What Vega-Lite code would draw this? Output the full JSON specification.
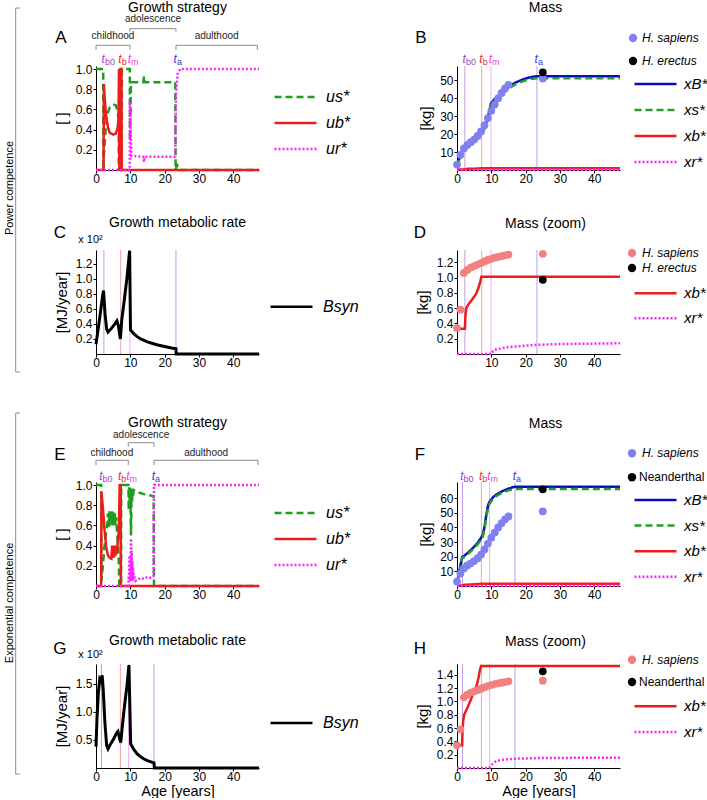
{
 "$schema": "https://vega.github.io/schema/vega-lite/v6.json",
 "padding": {"left": 4, "top": 0, "right": 0, "bottom": 0},
 "background": "white",
 "config": {
  "font": "Liberation Sans",
  "view": {"stroke": null},
  "axis": {"labelFont": "Liberation Sans", "labelFontSize": 12, "labelColor": "black", "titleFont": "Liberation Sans", "titleFontSize": 15, "titleFontWeight": "normal", "titleColor": "black", "domainColor": "black", "tickColor": "black", "tickSize": 3, "grid": false, "titlePadding": 6, "labelFlush": false, "labelOverlap": false},
  "axisX": {"labelPadding": 0},
  "axisY": {"labelPadding": 1},
  "legend": {"labelFont": "Liberation Sans", "labelColor": "black", "padding": 0, "symbolOffset": 0},
  "title": {"font": "Liberation Sans", "fontSize": 14, "fontWeight": "normal", "color": "black"},
  "text": {"font": "Liberation Sans"}
 },
 "datasets": {
  "evP": [{"ev": "b0", "t": 2.3}, {"ev": "b", "t": 7.2}, {"ev": "m", "t": 9.9}, {"ev": "a", "t": 23.3}],
  "evE": [{"ev": "b0", "t": 1.6}, {"ev": "b", "t": 7.1}, {"ev": "m", "t": 9.5}, {"ev": "a", "t": 16.9}],
  "stP": [{"st": "childhood", "a": 0, "b": 9.9, "mid": 4.95}, {"st": "adolescence", "a": 9.9, "b": 23.3, "mid": 16.6}, {"st": "adulthood", "a": 23.3, "b": 47, "mid": 35.15}],
  "stE": [{"st": "childhood", "a": 0, "b": 9.4, "mid": 4.6}, {"st": "adolescence", "a": 9.4, "b": 16.9, "mid": 13.15}, {"st": "adulthood", "a": 16.9, "b": 47.2, "mid": 32.1}],
  "uA": [
   {"s": "us*", "t": 0, "v": 1}, {"s": "us*", "t": 2.1, "v": 1}, {"s": "us*", "t": 2.15, "v": 0}, {"s": "us*", "t": 2.3, "v": 0.15}, {"s": "us*", "t": 2.8, "v": 0.4}, {"s": "us*", "t": 3.3, "v": 0.55}, {"s": "us*", "t": 4, "v": 0.62}, {"s": "us*", "t": 5, "v": 0.65}, {"s": "us*", "t": 5.8, "v": 0.64}, {"s": "us*", "t": 6.3, "v": 0.58}, {"s": "us*", "t": 6.6, "v": 0.5}, {"s": "us*", "t": 6.65, "v": 0}, {"s": "us*", "t": 7.5, "v": 0}, {"s": "us*", "t": 7.55, "v": 1}, {"s": "us*", "t": 9.85, "v": 1}, {"s": "us*", "t": 9.9, "v": 0.3}, {"s": "us*", "t": 10.2, "v": 0.87}, {"s": "us*", "t": 13.8, "v": 0.87}, {"s": "us*", "t": 14, "v": 0.93}, {"s": "us*", "t": 14.2, "v": 0.87}, {"s": "us*", "t": 23.1, "v": 0.87}, {"s": "us*", "t": 23.2, "v": 0}, {"s": "us*", "t": 23.6, "v": 0.05}, {"s": "us*", "t": 24, "v": 0.03}, {"s": "us*", "t": 24.5, "v": 0}, {"s": "us*", "t": 47.5, "v": 0},
   {"s": "ub*", "t": 0, "v": 0}, {"s": "ub*", "t": 2.2, "v": 0}, {"s": "ub*", "t": 2.3, "v": 0.85}, {"s": "ub*", "t": 2.6, "v": 0.68}, {"s": "ub*", "t": 3, "v": 0.52}, {"s": "ub*", "t": 3.5, "v": 0.42}, {"s": "ub*", "t": 4, "v": 0.37}, {"s": "ub*", "t": 5, "v": 0.35}, {"s": "ub*", "t": 5.8, "v": 0.36}, {"s": "ub*", "t": 6.3, "v": 0.42}, {"s": "ub*", "t": 6.55, "v": 0.5}, {"s": "ub*", "t": 6.7, "v": 1}, {"s": "ub*", "t": 6.8, "v": 0}, {"s": "ub*", "t": 6.9, "v": 1}, {"s": "ub*", "t": 7, "v": 0}, {"s": "ub*", "t": 7.1, "v": 1}, {"s": "ub*", "t": 7.4, "v": 1}, {"s": "ub*", "t": 7.5, "v": 0}, {"s": "ub*", "t": 47.5, "v": 0},
   {"s": "ur*", "t": 0, "v": 0}, {"s": "ur*", "t": 9.85, "v": 0}, {"s": "ur*", "t": 9.9, "v": 0.68}, {"s": "ur*", "t": 10.3, "v": 0.14}, {"s": "ur*", "t": 13.8, "v": 0.13}, {"s": "ur*", "t": 14, "v": 0.08}, {"s": "ur*", "t": 14.2, "v": 0.13}, {"s": "ur*", "t": 23.1, "v": 0.13}, {"s": "ur*", "t": 23.3, "v": 0.75}, {"s": "ur*", "t": 23.8, "v": 0.95}, {"s": "ur*", "t": 24.5, "v": 1}, {"s": "ur*", "t": 47.5, "v": 1}
  ],
  "uE": [
   {"s": "us*", "t": 0, "v": 1}, {"s": "us*", "t": 1.5, "v": 1}, {"s": "us*", "t": 1.6, "v": 0.05}, {"s": "us*", "t": 2, "v": 0.2}, {"s": "us*", "t": 2.5, "v": 0.4}, {"s": "us*", "t": 3, "v": 0.55}, {"s": "us*", "t": 3.3, "v": 0.62}, {"s": "us*", "t": 3.5, "v": 0.72}, {"s": "us*", "t": 3.7, "v": 0.58}, {"s": "us*", "t": 3.9, "v": 0.74}, {"s": "us*", "t": 4.1, "v": 0.6}, {"s": "us*", "t": 4.3, "v": 0.75}, {"s": "us*", "t": 4.5, "v": 0.62}, {"s": "us*", "t": 4.7, "v": 0.74}, {"s": "us*", "t": 4.9, "v": 0.6}, {"s": "us*", "t": 5.1, "v": 0.73}, {"s": "us*", "t": 5.3, "v": 0.62}, {"s": "us*", "t": 5.5, "v": 0.72}, {"s": "us*", "t": 5.7, "v": 0.6}, {"s": "us*", "t": 5.9, "v": 0.68}, {"s": "us*", "t": 6.1, "v": 0.55}, {"s": "us*", "t": 6.3, "v": 0.45}, {"s": "us*", "t": 6.6, "v": 0.3}, {"s": "us*", "t": 6.8, "v": 0}, {"s": "us*", "t": 7.3, "v": 0}, {"s": "us*", "t": 7.35, "v": 1}, {"s": "us*", "t": 9.45, "v": 1}, {"s": "us*", "t": 9.55, "v": 0.75}, {"s": "us*", "t": 9.7, "v": 0.98}, {"s": "us*", "t": 9.85, "v": 0.8}, {"s": "us*", "t": 10, "v": 0.97}, {"s": "us*", "t": 10.2, "v": 0.5}, {"s": "us*", "t": 10.35, "v": 0.95}, {"s": "us*", "t": 10.5, "v": 0.82}, {"s": "us*", "t": 10.65, "v": 0.96}, {"s": "us*", "t": 10.8, "v": 0.88}, {"s": "us*", "t": 11, "v": 0.95}, {"s": "us*", "t": 12, "v": 0.93}, {"s": "us*", "t": 14, "v": 0.91}, {"s": "us*", "t": 16.8, "v": 0.89}, {"s": "us*", "t": 16.9, "v": 0}, {"s": "us*", "t": 47.5, "v": 0},
   {"s": "ub*", "t": 0, "v": 0}, {"s": "ub*", "t": 1.5, "v": 0}, {"s": "ub*", "t": 1.6, "v": 0.93}, {"s": "ub*", "t": 2, "v": 0.78}, {"s": "ub*", "t": 2.5, "v": 0.55}, {"s": "ub*", "t": 3, "v": 0.38}, {"s": "ub*", "t": 3.5, "v": 0.3}, {"s": "ub*", "t": 4, "v": 0.28}, {"s": "ub*", "t": 4.5, "v": 0.27}, {"s": "ub*", "t": 4.7, "v": 0.4}, {"s": "ub*", "t": 4.9, "v": 0.28}, {"s": "ub*", "t": 5.1, "v": 0.4}, {"s": "ub*", "t": 5.3, "v": 0.28}, {"s": "ub*", "t": 5.5, "v": 0.4}, {"s": "ub*", "t": 5.7, "v": 0.3}, {"s": "ub*", "t": 5.9, "v": 0.4}, {"s": "ub*", "t": 6.1, "v": 0.32}, {"s": "ub*", "t": 6.3, "v": 0.42}, {"s": "ub*", "t": 6.5, "v": 0.48}, {"s": "ub*", "t": 6.7, "v": 0.62}, {"s": "ub*", "t": 6.9, "v": 1}, {"s": "ub*", "t": 7.2, "v": 1}, {"s": "ub*", "t": 7.25, "v": 0}, {"s": "ub*", "t": 47.5, "v": 0},
   {"s": "ur*", "t": 0, "v": 0}, {"s": "ur*", "t": 9.45, "v": 0}, {"s": "ur*", "t": 9.55, "v": 0.1}, {"s": "ur*", "t": 9.65, "v": 0.04}, {"s": "ur*", "t": 9.75, "v": 0.3}, {"s": "ur*", "t": 9.85, "v": 0.06}, {"s": "ur*", "t": 9.95, "v": 0.2}, {"s": "ur*", "t": 10.05, "v": 0.05}, {"s": "ur*", "t": 10.2, "v": 0.47}, {"s": "ur*", "t": 10.3, "v": 0.08}, {"s": "ur*", "t": 10.4, "v": 0.35}, {"s": "ur*", "t": 10.5, "v": 0.06}, {"s": "ur*", "t": 10.6, "v": 0.25}, {"s": "ur*", "t": 10.7, "v": 0.05}, {"s": "ur*", "t": 10.8, "v": 0.18}, {"s": "ur*", "t": 10.9, "v": 0.06}, {"s": "ur*", "t": 11, "v": 0.12}, {"s": "ur*", "t": 11.5, "v": 0.05}, {"s": "ur*", "t": 12, "v": 0.06}, {"s": "ur*", "t": 13, "v": 0.08}, {"s": "ur*", "t": 14, "v": 0.07}, {"s": "ur*", "t": 15, "v": 0.09}, {"s": "ur*", "t": 16, "v": 0.08}, {"s": "ur*", "t": 16.8, "v": 0.1}, {"s": "ur*", "t": 16.9, "v": 1}, {"s": "ur*", "t": 47.5, "v": 1}
  ],
  "mB": [
   {"s": "xB*", "t": 0, "v": 2.4}, {"s": "xB*", "t": 0.5, "v": 5}, {"s": "xB*", "t": 1.2, "v": 10}, {"s": "xB*", "t": 2.3, "v": 12.5}, {"s": "xB*", "t": 3, "v": 13.3}, {"s": "xB*", "t": 4, "v": 14.6}, {"s": "xB*", "t": 5, "v": 16.2}, {"s": "xB*", "t": 6, "v": 18}, {"s": "xB*", "t": 7, "v": 20.3}, {"s": "xB*", "t": 7.5, "v": 21.5}, {"s": "xB*", "t": 8.2, "v": 25}, {"s": "xB*", "t": 8.9, "v": 28.5}, {"s": "xB*", "t": 9.5, "v": 33.5}, {"s": "xB*", "t": 9.9, "v": 37}, {"s": "xB*", "t": 10.5, "v": 38.5}, {"s": "xB*", "t": 11.5, "v": 40.5}, {"s": "xB*", "t": 12.5, "v": 42.5}, {"s": "xB*", "t": 14, "v": 44.8}, {"s": "xB*", "t": 15.5, "v": 47}, {"s": "xB*", "t": 17, "v": 48.7}, {"s": "xB*", "t": 18.5, "v": 50}, {"s": "xB*", "t": 20, "v": 51}, {"s": "xB*", "t": 21.5, "v": 51.8}, {"s": "xB*", "t": 23.2, "v": 52.3}, {"s": "xB*", "t": 47.5, "v": 52.3},
   {"s": "xs*", "t": 0, "v": 2}, {"s": "xs*", "t": 0.5, "v": 4.5}, {"s": "xs*", "t": 1.2, "v": 9.5}, {"s": "xs*", "t": 2.3, "v": 12}, {"s": "xs*", "t": 3, "v": 12.8}, {"s": "xs*", "t": 4, "v": 14}, {"s": "xs*", "t": 5, "v": 15.6}, {"s": "xs*", "t": 6, "v": 17.4}, {"s": "xs*", "t": 7, "v": 19.6}, {"s": "xs*", "t": 7.5, "v": 20.8}, {"s": "xs*", "t": 8.2, "v": 24}, {"s": "xs*", "t": 8.9, "v": 27.5}, {"s": "xs*", "t": 9.5, "v": 32.5}, {"s": "xs*", "t": 9.9, "v": 36}, {"s": "xs*", "t": 10.5, "v": 37.5}, {"s": "xs*", "t": 11.5, "v": 39.5}, {"s": "xs*", "t": 12.5, "v": 41.5}, {"s": "xs*", "t": 14, "v": 43.8}, {"s": "xs*", "t": 15.5, "v": 46}, {"s": "xs*", "t": 17, "v": 47.7}, {"s": "xs*", "t": 18.5, "v": 49}, {"s": "xs*", "t": 20, "v": 50}, {"s": "xs*", "t": 21.5, "v": 50.8}, {"s": "xs*", "t": 23.2, "v": 51.2}, {"s": "xs*", "t": 47.5, "v": 51.2},
   {"s": "xb*", "t": 0, "v": 0.33}, {"s": "xb*", "t": 2.3, "v": 0.33}, {"s": "xb*", "t": 2.45, "v": 0.5}, {"s": "xb*", "t": 2.7, "v": 0.6}, {"s": "xb*", "t": 3.5, "v": 0.66}, {"s": "xb*", "t": 4.2, "v": 0.7}, {"s": "xb*", "t": 5.5, "v": 0.78}, {"s": "xb*", "t": 6.3, "v": 0.87}, {"s": "xb*", "t": 6.8, "v": 0.95}, {"s": "xb*", "t": 7.1, "v": 1.01}, {"s": "xb*", "t": 47.5, "v": 1.01},
   {"s": "xr*", "t": 0, "v": 0}, {"s": "xr*", "t": 10, "v": 0}, {"s": "xr*", "t": 10.5, "v": 0.04}, {"s": "xr*", "t": 11, "v": 0.055}, {"s": "xr*", "t": 13, "v": 0.075}, {"s": "xr*", "t": 15, "v": 0.09}, {"s": "xr*", "t": 18, "v": 0.1}, {"s": "xr*", "t": 20, "v": 0.11}, {"s": "xr*", "t": 23.3, "v": 0.12}, {"s": "xr*", "t": 30, "v": 0.13}, {"s": "xr*", "t": 47.5, "v": 0.14}
  ],
  "mF": [
   {"s": "xB*", "t": 0, "v": 2}, {"s": "xB*", "t": 0.5, "v": 8}, {"s": "xB*", "t": 1, "v": 14}, {"s": "xB*", "t": 1.5, "v": 19.7}, {"s": "xB*", "t": 2, "v": 20.5}, {"s": "xB*", "t": 3, "v": 22.3}, {"s": "xB*", "t": 4, "v": 24.5}, {"s": "xB*", "t": 5, "v": 26.8}, {"s": "xB*", "t": 6, "v": 29.5}, {"s": "xB*", "t": 6.9, "v": 32.5}, {"s": "xB*", "t": 7.5, "v": 35}, {"s": "xB*", "t": 8, "v": 40}, {"s": "xB*", "t": 8.5, "v": 48}, {"s": "xB*", "t": 9.1, "v": 55.5}, {"s": "xB*", "t": 9.5, "v": 57.5}, {"s": "xB*", "t": 10.5, "v": 60.5}, {"s": "xB*", "t": 11.5, "v": 62.5}, {"s": "xB*", "t": 13, "v": 64.5}, {"s": "xB*", "t": 15, "v": 66.5}, {"s": "xB*", "t": 16.8, "v": 67.8}, {"s": "xB*", "t": 47.5, "v": 67.8},
   {"s": "xs*", "t": 0, "v": 1.7}, {"s": "xs*", "t": 0.5, "v": 7.5}, {"s": "xs*", "t": 1, "v": 13.3}, {"s": "xs*", "t": 1.5, "v": 19}, {"s": "xs*", "t": 2, "v": 19.7}, {"s": "xs*", "t": 3, "v": 21.5}, {"s": "xs*", "t": 4, "v": 23.6}, {"s": "xs*", "t": 5, "v": 25.8}, {"s": "xs*", "t": 6, "v": 28.4}, {"s": "xs*", "t": 6.9, "v": 31.3}, {"s": "xs*", "t": 7.5, "v": 33.5}, {"s": "xs*", "t": 8, "v": 38.5}, {"s": "xs*", "t": 8.5, "v": 46.5}, {"s": "xs*", "t": 9.1, "v": 54}, {"s": "xs*", "t": 9.5, "v": 56.3}, {"s": "xs*", "t": 10.5, "v": 59.5}, {"s": "xs*", "t": 11.5, "v": 61.5}, {"s": "xs*", "t": 13, "v": 63.5}, {"s": "xs*", "t": 15, "v": 65.3}, {"s": "xs*", "t": 16.8, "v": 66.2}, {"s": "xs*", "t": 47.5, "v": 66.2},
   {"s": "xb*", "t": 0, "v": 0.34}, {"s": "xb*", "t": 1.5, "v": 0.34}, {"s": "xb*", "t": 1.6, "v": 0.55}, {"s": "xb*", "t": 1.8, "v": 0.7}, {"s": "xb*", "t": 2.1, "v": 0.8}, {"s": "xb*", "t": 3, "v": 0.9}, {"s": "xb*", "t": 4, "v": 1.02}, {"s": "xb*", "t": 4.6, "v": 1.1}, {"s": "xb*", "t": 5.3, "v": 1.18}, {"s": "xb*", "t": 5.8, "v": 1.25}, {"s": "xb*", "t": 6.3, "v": 1.36}, {"s": "xb*", "t": 6.6, "v": 1.45}, {"s": "xb*", "t": 7, "v": 1.53}, {"s": "xb*", "t": 47.5, "v": 1.53},
   {"s": "xr*", "t": 0, "v": 0}, {"s": "xr*", "t": 9.4, "v": 0}, {"s": "xr*", "t": 10, "v": 0.045}, {"s": "xr*", "t": 11, "v": 0.09}, {"s": "xr*", "t": 12, "v": 0.11}, {"s": "xr*", "t": 13.5, "v": 0.125}, {"s": "xr*", "t": 16.8, "v": 0.14}, {"s": "xr*", "t": 25, "v": 0.15}, {"s": "xr*", "t": 47.5, "v": 0.155}
  ],
  "ptB": [
   {"g": "H. sapiens", "t": 0, "v": 3}, {"g": "H. sapiens", "t": 1, "v": 8.5}, {"g": "H. sapiens", "t": 2, "v": 12}, {"g": "H. sapiens", "t": 3, "v": 14}, {"g": "H. sapiens", "t": 4, "v": 15.5}, {"g": "H. sapiens", "t": 5, "v": 17}, {"g": "H. sapiens", "t": 6, "v": 19}, {"g": "H. sapiens", "t": 7, "v": 21.5}, {"g": "H. sapiens", "t": 8, "v": 25}, {"g": "H. sapiens", "t": 9, "v": 29}, {"g": "H. sapiens", "t": 10, "v": 33}, {"g": "H. sapiens", "t": 11, "v": 36.5}, {"g": "H. sapiens", "t": 12, "v": 40}, {"g": "H. sapiens", "t": 13, "v": 43}, {"g": "H. sapiens", "t": 14, "v": 45.5}, {"g": "H. sapiens", "t": 15, "v": 47.5}, {"g": "H. sapiens", "t": 25, "v": 51},
   {"g": "H. erectus", "t": 25, "v": 54.5}
  ],
  "ptF": [
   {"g": "H. sapiens", "t": 0, "v": 3}, {"g": "H. sapiens", "t": 1, "v": 8.5}, {"g": "H. sapiens", "t": 2, "v": 12}, {"g": "H. sapiens", "t": 3, "v": 14}, {"g": "H. sapiens", "t": 4, "v": 15.5}, {"g": "H. sapiens", "t": 5, "v": 17}, {"g": "H. sapiens", "t": 6, "v": 19}, {"g": "H. sapiens", "t": 7, "v": 21.5}, {"g": "H. sapiens", "t": 8, "v": 25}, {"g": "H. sapiens", "t": 9, "v": 29}, {"g": "H. sapiens", "t": 10, "v": 33}, {"g": "H. sapiens", "t": 11, "v": 36.5}, {"g": "H. sapiens", "t": 12, "v": 40}, {"g": "H. sapiens", "t": 13, "v": 43}, {"g": "H. sapiens", "t": 14, "v": 45.5}, {"g": "H. sapiens", "t": 15, "v": 47.5}, {"g": "H. sapiens", "t": 25, "v": 51},
   {"g": "Neanderthal", "t": 25, "v": 66}
  ],
  "ptD": [
   {"g": "H. sapiens", "t": 0, "v": 0.34}, {"g": "H. sapiens", "t": 1, "v": 0.58}, {"g": "H. sapiens", "t": 2, "v": 1.06}, {"g": "H. sapiens", "t": 3, "v": 1.1}, {"g": "H. sapiens", "t": 4, "v": 1.13}, {"g": "H. sapiens", "t": 5, "v": 1.15}, {"g": "H. sapiens", "t": 6, "v": 1.17}, {"g": "H. sapiens", "t": 7, "v": 1.19}, {"g": "H. sapiens", "t": 8, "v": 1.21}, {"g": "H. sapiens", "t": 9, "v": 1.23}, {"g": "H. sapiens", "t": 10, "v": 1.245}, {"g": "H. sapiens", "t": 11, "v": 1.26}, {"g": "H. sapiens", "t": 12, "v": 1.27}, {"g": "H. sapiens", "t": 13, "v": 1.28}, {"g": "H. sapiens", "t": 14, "v": 1.29}, {"g": "H. sapiens", "t": 15, "v": 1.3}, {"g": "H. sapiens", "t": 25, "v": 1.31},
   {"g": "H. erectus", "t": 25, "v": 0.97}
  ],
  "ptH": [
   {"g": "H. sapiens", "t": 0, "v": 0.34}, {"g": "H. sapiens", "t": 1, "v": 0.58}, {"g": "H. sapiens", "t": 2, "v": 1.06}, {"g": "H. sapiens", "t": 3, "v": 1.1}, {"g": "H. sapiens", "t": 4, "v": 1.13}, {"g": "H. sapiens", "t": 5, "v": 1.15}, {"g": "H. sapiens", "t": 6, "v": 1.17}, {"g": "H. sapiens", "t": 7, "v": 1.19}, {"g": "H. sapiens", "t": 8, "v": 1.21}, {"g": "H. sapiens", "t": 9, "v": 1.23}, {"g": "H. sapiens", "t": 10, "v": 1.245}, {"g": "H. sapiens", "t": 11, "v": 1.26}, {"g": "H. sapiens", "t": 12, "v": 1.27}, {"g": "H. sapiens", "t": 13, "v": 1.28}, {"g": "H. sapiens", "t": 14, "v": 1.29}, {"g": "H. sapiens", "t": 15, "v": 1.3}, {"g": "H. sapiens", "t": 25, "v": 1.31},
   {"g": "Neanderthal", "t": 25, "v": 1.45}
  ],
  "bC": [
   {"s": "Bsyn", "t": 0, "v": 0.13}, {"s": "Bsyn", "t": 1, "v": 0.45}, {"s": "Bsyn", "t": 2, "v": 0.8}, {"s": "Bsyn", "t": 2.2, "v": 0.84}, {"s": "Bsyn", "t": 2.6, "v": 0.55}, {"s": "Bsyn", "t": 3.1, "v": 0.33}, {"s": "Bsyn", "t": 3.5, "v": 0.29}, {"s": "Bsyn", "t": 4.5, "v": 0.34}, {"s": "Bsyn", "t": 5.5, "v": 0.4}, {"s": "Bsyn", "t": 6.1, "v": 0.44}, {"s": "Bsyn", "t": 6.5, "v": 0.38}, {"s": "Bsyn", "t": 7.1, "v": 0.2}, {"s": "Bsyn", "t": 7.5, "v": 0.45}, {"s": "Bsyn", "t": 8.2, "v": 0.7}, {"s": "Bsyn", "t": 9, "v": 1}, {"s": "Bsyn", "t": 9.8, "v": 1.37}, {"s": "Bsyn", "t": 10.05, "v": 0.32}, {"s": "Bsyn", "t": 11, "v": 0.27}, {"s": "Bsyn", "t": 12, "v": 0.23}, {"s": "Bsyn", "t": 13, "v": 0.2}, {"s": "Bsyn", "t": 14, "v": 0.18}, {"s": "Bsyn", "t": 15, "v": 0.16}, {"s": "Bsyn", "t": 16.5, "v": 0.14}, {"s": "Bsyn", "t": 18, "v": 0.12}, {"s": "Bsyn", "t": 20, "v": 0.1}, {"s": "Bsyn", "t": 22, "v": 0.08}, {"s": "Bsyn", "t": 23.3, "v": 0.07}, {"s": "Bsyn", "t": 23.35, "v": 0}, {"s": "Bsyn", "t": 47.5, "v": 0}
  ],
  "bG": [
   {"s": "Bsyn", "t": 0, "v": 0.38}, {"s": "Bsyn", "t": 0.3, "v": 0.9}, {"s": "Bsyn", "t": 0.7, "v": 1.35}, {"s": "Bsyn", "t": 1.1, "v": 1.58}, {"s": "Bsyn", "t": 1.4, "v": 1.55}, {"s": "Bsyn", "t": 1.8, "v": 1.65}, {"s": "Bsyn", "t": 2.1, "v": 1.4}, {"s": "Bsyn", "t": 2.6, "v": 0.8}, {"s": "Bsyn", "t": 3.1, "v": 0.4}, {"s": "Bsyn", "t": 3.5, "v": 0.34}, {"s": "Bsyn", "t": 4, "v": 0.4}, {"s": "Bsyn", "t": 5, "v": 0.5}, {"s": "Bsyn", "t": 6, "v": 0.62}, {"s": "Bsyn", "t": 6.4, "v": 0.65}, {"s": "Bsyn", "t": 6.8, "v": 0.55}, {"s": "Bsyn", "t": 7.2, "v": 0.45}, {"s": "Bsyn", "t": 7.6, "v": 0.7}, {"s": "Bsyn", "t": 8.2, "v": 1.05}, {"s": "Bsyn", "t": 9, "v": 1.45}, {"s": "Bsyn", "t": 9.6, "v": 1.83}, {"s": "Bsyn", "t": 10.1, "v": 0.43}, {"s": "Bsyn", "t": 11, "v": 0.33}, {"s": "Bsyn", "t": 12, "v": 0.25}, {"s": "Bsyn", "t": 13, "v": 0.2}, {"s": "Bsyn", "t": 14, "v": 0.16}, {"s": "Bsyn", "t": 15, "v": 0.13}, {"s": "Bsyn", "t": 16, "v": 0.11}, {"s": "Bsyn", "t": 16.9, "v": 0.09}, {"s": "Bsyn", "t": 17, "v": 0}, {"s": "Bsyn", "t": 47.5, "v": 0}
  ]
 },
 "columns": 2,
 "spacing": {"row": 20, "column": 198},
 "bounds": "flush",
 "align": "each",
 "resolve": {"scale": {"stroke": "independent", "strokeDash": "independent", "fill": "independent", "color": "independent"}},
 "concat": [
  {
   "width": 163, "height": 104,
   "title": {"text": "Growth strategy", "frame": "group", "offset": -7},
   "layer": [
    {"data": {"values": [{}]}, "mark": {"type": "rule", "color": "#8c8c8c", "strokeWidth": 1}, "encoding": {"x": {"datum": -23.4}, "y": {"datum": 1.604}, "y2": {"datum": -2.0}}},
    {"data": {"values": [{}]}, "mark": {"type": "rule", "color": "#8c8c8c", "strokeWidth": 1}, "encoding": {"x": {"datum": -23.4}, "x2": {"datum": -22.15}, "y": {"datum": 1.604}}},
    {"data": {"values": [{}]}, "mark": {"type": "rule", "color": "#8c8c8c", "strokeWidth": 1}, "encoding": {"x": {"datum": -23.4}, "x2": {"datum": -22.15}, "y": {"datum": -2.0}}},
    {"data": {"values": [{}]}, "mark": {"type": "text", "text": "Power competence", "angle": 270, "fontSize": 11, "baseline": "middle", "align": "center"}, "encoding": {"x": {"datum": -25.06}, "y": {"datum": -0.178}}},
    {"data": {"values": [{}]}, "mark": {"type": "text", "text": "A", "fontSize": 17, "baseline": "middle", "align": "center"}, "encoding": {"x": {"datum": -10.2}, "y": {"datum": 1.307}}},
    {"data": {"name": "stP"}, "transform": [{"filter": "datum.st !== 'adolescence'"}], "mark": {"type": "rule", "color": "#8c8c8c"}, "encoding": {"x": {"field": "a", "type": "quantitative"}, "x2": {"field": "b"}, "y": {"datum": 1.235}}},
    {"data": {"name": "stP"}, "transform": [{"filter": "datum.st !== 'adolescence'"}], "mark": {"type": "rule", "color": "#8c8c8c"}, "encoding": {"x": {"field": "a", "type": "quantitative"}, "y": {"datum": 1.235}, "y2": {"datum": 1.19}}},
    {"data": {"name": "stP"}, "transform": [{"filter": "datum.st !== 'adolescence'"}], "mark": {"type": "rule", "color": "#8c8c8c"}, "encoding": {"x": {"field": "b", "type": "quantitative"}, "y": {"datum": 1.235}, "y2": {"datum": 1.19}}},
    {"data": {"name": "stP"}, "transform": [{"filter": "datum.st !== 'adolescence'"}], "mark": {"type": "text", "fontSize": 10, "baseline": "middle", "color": "#222222"}, "encoding": {"x": {"field": "mid", "type": "quantitative"}, "y": {"datum": 1.325}, "text": {"field": "st"}}},
    {"data": {"name": "stP"}, "transform": [{"filter": "datum.st === 'adolescence'"}], "mark": {"type": "rule", "color": "#8c8c8c"}, "encoding": {"x": {"field": "a", "type": "quantitative"}, "x2": {"field": "b"}, "y": {"datum": 1.4}}},
    {"data": {"name": "stP"}, "transform": [{"filter": "datum.st === 'adolescence'"}], "mark": {"type": "rule", "color": "#8c8c8c"}, "encoding": {"x": {"field": "a", "type": "quantitative"}, "y": {"datum": 1.4}, "y2": {"datum": 1.37}}},
    {"data": {"name": "stP"}, "transform": [{"filter": "datum.st === 'adolescence'"}], "mark": {"type": "rule", "color": "#8c8c8c"}, "encoding": {"x": {"field": "b", "type": "quantitative"}, "y": {"datum": 1.4}, "y2": {"datum": 1.37}}},
    {"data": {"name": "stP"}, "transform": [{"filter": "datum.st === 'adolescence'"}], "mark": {"type": "text", "fontSize": 10, "baseline": "middle", "color": "#222222"}, "encoding": {"x": {"field": "mid", "type": "quantitative"}, "y": {"datum": 1.495}, "text": {"field": "st"}}},
    {"data": {"name": "evP"}, "mark": {"type": "text", "text": "t", "fontSize": 12, "fontStyle": "italic", "align": "right", "baseline": "middle", "dx": 1}, "encoding": {"x": {"field": "t", "type": "quantitative"}, "y": {"datum": 1.099}, "color": {"condition": [{"test": "datum.ev === 'b0'", "value": "#9b3fc8"}, {"test": "datum.ev === 'b'", "value": "#ee2a2a"}, {"test": "datum.ev === 'm'", "value": "#e83ee8"}], "value": "#3a3ad8"}}},
    {"data": {"name": "evP"}, "mark": {"type": "text", "fontSize": 9, "align": "left", "baseline": "middle", "dx": 1, "dy": 3}, "encoding": {"x": {"field": "t", "type": "quantitative"}, "y": {"datum": 1.099}, "text": {"field": "ev"}, "color": {"condition": [{"test": "datum.ev === 'b0'", "value": "#9b3fc8"}, {"test": "datum.ev === 'b'", "value": "#ee2a2a"}, {"test": "datum.ev === 'm'", "value": "#e83ee8"}], "value": "#3a3ad8"}}},
    {"data": {"name": "uA"}, "mark": {"type": "line", "strokeWidth": 2.5},
     "encoding": {
      "x": {"field": "t", "type": "quantitative", "scale": {"domain": [0, 47.5], "nice": false}, "axis": {"values": [0, 10, 20, 30, 40], "tickCount": 20, "title": null}},
      "y": {"field": "v", "type": "quantitative", "scale": {"domain": [0, 1.03], "nice": false}, "axis": {"values": [0.2, 0.4, 0.6, 0.8, 1.0], "tickCount": 20, "format": ".1f", "title": "[ ]"}},
      "stroke": {"field": "s", "type": "nominal", "scale": {"domain": ["us*", "ub*", "ur*"], "range": ["#1e9e1e", "#ee1c1c", "#ff22ff"]}, "legend": {"orient": "none", "legendX": 177, "legendY": 21, "title": null, "symbolType": "stroke", "symbolSize": 1764, "symbolStrokeWidth": 2.5, "clipHeight": 20, "rowPadding": 6, "labelOffset": 8, "labelFontSize": 16, "labelFontStyle": "italic"}},
      "strokeDash": {"field": "s", "type": "nominal", "scale": {"domain": ["us*", "ub*", "ur*"], "range": [[7, 4], [1, 0], [2, 2]]}, "legend": {"orient": "none", "legendX": 177, "legendY": 21, "title": null, "symbolType": "stroke", "symbolSize": 1764, "symbolStrokeWidth": 2.5, "clipHeight": 20, "rowPadding": 6, "labelOffset": 8, "labelFontSize": 16, "labelFontStyle": "italic"}}
     }}
   ]
  },
  {
   "width": 163, "height": 104,
   "title": {"text": "Mass", "frame": "group", "offset": 14.5, "dx": 7},
   "layer": [
    {"data": {"values": [{}]}, "mark": {"type": "text", "text": "B", "fontSize": 17, "baseline": "middle", "align": "center"}, "encoding": {"x": {"datum": -10.5}, "y": {"datum": 73.6}}},
    {"data": {"name": "evP"}, "mark": {"type": "rule", "strokeWidth": 1}, "encoding": {"x": {"field": "t", "type": "quantitative"}, "color": {"condition": [{"test": "datum.ev === 'b0'", "value": "#c99be0"}, {"test": "datum.ev === 'b'", "value": "#f4a0a0"}, {"test": "datum.ev === 'm'", "value": "#f2aef0"}], "value": "#a8a8f2"}}},
    {"data": {"name": "evP"}, "mark": {"type": "text", "text": "t", "fontSize": 12, "fontStyle": "italic", "align": "right", "baseline": "middle", "dx": 1}, "encoding": {"x": {"field": "t", "type": "quantitative"}, "y": {"datum": 61.9}, "color": {"condition": [{"test": "datum.ev === 'b0'", "value": "#9b3fc8"}, {"test": "datum.ev === 'b'", "value": "#ee2a2a"}, {"test": "datum.ev === 'm'", "value": "#e83ee8"}], "value": "#3a3ad8"}}},
    {"data": {"name": "evP"}, "mark": {"type": "text", "fontSize": 9, "align": "left", "baseline": "middle", "dx": 1, "dy": 3}, "encoding": {"x": {"field": "t", "type": "quantitative"}, "y": {"datum": 61.9}, "text": {"field": "ev"}, "color": {"condition": [{"test": "datum.ev === 'b0'", "value": "#9b3fc8"}, {"test": "datum.ev === 'b'", "value": "#ee2a2a"}, {"test": "datum.ev === 'm'", "value": "#e83ee8"}], "value": "#3a3ad8"}}},
    {"data": {"name": "mB"}, "mark": {"type": "line", "strokeWidth": 2.5},
     "encoding": {
      "x": {"field": "t", "type": "quantitative", "scale": {"domain": [0, 47.5], "nice": false}, "axis": {"values": [0, 10, 20, 30, 40], "tickCount": 20, "title": null}},
      "y": {"field": "v", "type": "quantitative", "scale": {"domain": [0, 58], "nice": false}, "axis": {"values": [10, 20, 30, 40, 50], "tickCount": 20, "title": "[kg]"}},
      "stroke": {"field": "s", "type": "nominal", "scale": {"domain": ["xB*", "xs*", "xb*", "xr*"], "range": ["#0c0cc0", "#22a022", "#ee1c1c", "#ff22ff"]}, "legend": {"orient": "none", "legendX": 176, "legendY": 8, "title": null, "symbolType": "stroke", "symbolSize": 1764, "symbolStrokeWidth": 2.5, "clipHeight": 20, "rowPadding": 6, "labelOffset": 6, "labelFontSize": 15, "labelFontStyle": "italic"}},
      "strokeDash": {"field": "s", "type": "nominal", "scale": {"domain": ["xB*", "xs*", "xb*", "xr*"], "range": [[1, 0], [7, 4], [1, 0], [2, 2]]}, "legend": {"orient": "none", "legendX": 176, "legendY": 8, "title": null, "symbolType": "stroke", "symbolSize": 1764, "symbolStrokeWidth": 2.5, "clipHeight": 20, "rowPadding": 6, "labelOffset": 6, "labelFontSize": 15, "labelFontStyle": "italic"}}
     }},
    {"data": {"name": "ptB"}, "mark": {"type": "point", "filled": true, "size": 60, "opacity": 1},
     "encoding": {
      "x": {"field": "t", "type": "quantitative"},
      "y": {"field": "v", "type": "quantitative"},
      "fill": {"field": "g", "type": "nominal", "scale": {"domain": ["H. sapiens", "H. erectus"], "range": ["#8080f2", "#000000"]}, "legend": {"orient": "none", "legendX": 170, "legendY": -35, "title": null, "symbolType": "circle", "symbolSize": 70, "clipHeight": 14, "rowPadding": 9, "labelOffset": 3, "labelFontSize": 12, "labelFontStyle": "italic"}}
     }}
   ]
  },
  {"data": {"values": [{}]}, "mark": {"type": "text", "text": ""}, "encoding": {}, "width": 163, "height": 40},
  {"data": {"values": [{}]}, "mark": {"type": "text", "text": ""}, "encoding": {}, "width": 163, "height": 40},
  {
   "width": 163, "height": 104,
   "title": {"text": "Growth metabolic rate", "frame": "group", "offset": -6.5},
   "layer": [
    {"data": {"values": [{}]}, "mark": {"type": "text", "text": "C", "fontSize": 17, "baseline": "middle", "align": "center"}, "encoding": {"x": {"datum": -10.5}, "y": {"datum": 1.606}}},
    {"data": {"values": [{}]}, "mark": {"type": "text", "text": "x 10²", "fontSize": 11, "baseline": "middle", "align": "center"}, "encoding": {"x": {"datum": -1.6}, "y": {"datum": 1.513}}},
    {"data": {"name": "evP"}, "mark": {"type": "rule", "strokeWidth": 1}, "encoding": {"x": {"field": "t", "type": "quantitative"}, "color": {"condition": [{"test": "datum.ev === 'b0'", "value": "#c99be0"}, {"test": "datum.ev === 'b'", "value": "#f4a0a0"}, {"test": "datum.ev === 'm'", "value": "#f2aef0"}], "value": "#a8a8f2"}}},
    {"data": {"name": "bC"}, "mark": {"type": "line", "strokeWidth": 3},
     "encoding": {
      "x": {"field": "t", "type": "quantitative", "scale": {"domain": [0, 47.5], "nice": false}, "axis": {"values": [0, 10, 20, 30, 40], "tickCount": 20, "title": null}},
      "y": {"field": "v", "type": "quantitative", "scale": {"domain": [0, 1.38], "nice": false}, "axis": {"values": [0.2, 0.4, 0.6, 0.8, 1.0, 1.2], "tickCount": 20, "format": ".1f", "title": "[MJ/year]"}},
      "stroke": {"field": "s", "type": "nominal", "scale": {"domain": ["Bsyn"], "range": ["#000000"]}, "legend": {"orient": "none", "legendX": 173, "legendY": 46.7, "title": null, "symbolType": "stroke", "symbolSize": 1764, "symbolStrokeWidth": 2.5, "clipHeight": 20, "labelOffset": 9, "labelFontSize": 16, "labelFontStyle": "italic"}}
     }}
   ]
  },
  {
   "width": 163, "height": 104,
   "title": {"text": "Mass (zoom)", "frame": "group", "offset": -6.5, "dx": 7},
   "layer": [
    {"data": {"values": [{}]}, "mark": {"type": "text", "text": "D", "fontSize": 17, "baseline": "middle", "align": "center"}, "encoding": {"x": {"datum": -10.8}, "y": {"datum": 1.582}}},
    {"data": {"name": "evP"}, "mark": {"type": "rule", "strokeWidth": 1}, "encoding": {"x": {"field": "t", "type": "quantitative"}, "color": {"condition": [{"test": "datum.ev === 'b0'", "value": "#c99be0"}, {"test": "datum.ev === 'b'", "value": "#f4a0a0"}, {"test": "datum.ev === 'm'", "value": "#f2aef0"}], "value": "#a8a8f2"}}},
    {"data": {"name": "mB"}, "transform": [{"filter": "datum.s === 'xb*' || datum.s === 'xr*'"}], "mark": {"type": "line", "strokeWidth": 2.5},
     "encoding": {
      "x": {"field": "t", "type": "quantitative", "scale": {"domain": [0, 47.5], "nice": false}, "axis": {"values": [10, 20, 30, 40], "tickCount": 20, "title": null}},
      "y": {"field": "v", "type": "quantitative", "scale": {"domain": [0, 1.36], "nice": false}, "axis": {"values": [0.2, 0.4, 0.6, 0.8, 1.0, 1.2], "tickCount": 20, "format": ".1f", "title": "[kg]"}},
      "stroke": {"field": "s", "type": "nominal", "scale": {"domain": ["xb*", "xr*"], "range": ["#ee1c1c", "#ff22ff"]}, "legend": {"orient": "none", "legendX": 176, "legendY": 33.3, "title": null, "symbolType": "stroke", "symbolSize": 1764, "symbolStrokeWidth": 2.5, "clipHeight": 20, "rowPadding": 5, "labelOffset": 6, "labelFontSize": 15, "labelFontStyle": "italic"}},
      "strokeDash": {"field": "s", "type": "nominal", "scale": {"domain": ["xb*", "xr*"], "range": [[1, 0], [2, 2]]}, "legend": {"orient": "none", "legendX": 176, "legendY": 33.3, "title": null, "symbolType": "stroke", "symbolSize": 1764, "symbolStrokeWidth": 2.5, "clipHeight": 20, "rowPadding": 5, "labelOffset": 6, "labelFontSize": 15, "labelFontStyle": "italic"}}
     }},
    {"data": {"name": "ptD"}, "mark": {"type": "point", "filled": true, "size": 60, "opacity": 1},
     "encoding": {
      "x": {"field": "t", "type": "quantitative"},
      "y": {"field": "v", "type": "quantitative"},
      "fill": {"field": "g", "type": "nominal", "scale": {"domain": ["H. sapiens", "H. erectus"], "range": ["#f28080", "#000000"]}, "legend": {"orient": "none", "legendX": 169, "legendY": -3, "title": null, "symbolType": "circle", "symbolSize": 70, "clipHeight": 12, "rowPadding": 3, "labelOffset": 4, "labelFontSize": 12, "labelFontStyle": "italic"}}
     }}
   ]
  },
  {"data": {"values": [{}]}, "mark": {"type": "text", "text": ""}, "encoding": {}, "width": 163, "height": 88},
  {"data": {"values": [{}]}, "mark": {"type": "text", "text": ""}, "encoding": {}, "width": 163, "height": 88},
  {
   "width": 163, "height": 104,
   "title": {"text": "Growth strategy", "frame": "group", "offset": -17},
   "layer": [
    {"data": {"values": [{}]}, "mark": {"type": "rule", "color": "#8c8c8c", "strokeWidth": 1}, "encoding": {"x": {"datum": -23.4}, "y": {"datum": 1.713}, "y2": {"datum": -1.862}}},
    {"data": {"values": [{}]}, "mark": {"type": "rule", "color": "#8c8c8c", "strokeWidth": 1}, "encoding": {"x": {"datum": -23.4}, "x2": {"datum": -22.15}, "y": {"datum": 1.713}}},
    {"data": {"values": [{}]}, "mark": {"type": "rule", "color": "#8c8c8c", "strokeWidth": 1}, "encoding": {"x": {"datum": -23.4}, "x2": {"datum": -22.15}, "y": {"datum": -1.862}}},
    {"data": {"values": [{}]}, "mark": {"type": "text", "text": "Exponential competence", "angle": 270, "fontSize": 11, "baseline": "middle", "align": "center"}, "encoding": {"x": {"datum": -25.06}, "y": {"datum": -0.168}}},
    {"data": {"values": [{}]}, "mark": {"type": "text", "text": "E", "fontSize": 17, "baseline": "middle", "align": "center"}, "encoding": {"x": {"datum": -10.5}, "y": {"datum": 1.297}}},
    {"data": {"name": "stE"}, "transform": [{"filter": "datum.st !== 'adolescence'"}], "mark": {"type": "rule", "color": "#8c8c8c"}, "encoding": {"x": {"field": "a", "type": "quantitative"}, "x2": {"field": "b"}, "y": {"datum": 1.245}}},
    {"data": {"name": "stE"}, "transform": [{"filter": "datum.st !== 'adolescence'"}], "mark": {"type": "rule", "color": "#8c8c8c"}, "encoding": {"x": {"field": "a", "type": "quantitative"}, "y": {"datum": 1.245}, "y2": {"datum": 1.198}}},
    {"data": {"name": "stE"}, "transform": [{"filter": "datum.st !== 'adolescence'"}], "mark": {"type": "rule", "color": "#8c8c8c"}, "encoding": {"x": {"field": "b", "type": "quantitative"}, "y": {"datum": 1.245}, "y2": {"datum": 1.198}}},
    {"data": {"name": "stE"}, "transform": [{"filter": "datum.st !== 'adolescence'"}], "mark": {"type": "text", "fontSize": 10, "baseline": "middle", "color": "#222222"}, "encoding": {"x": {"field": "mid", "type": "quantitative"}, "y": {"datum": 1.32}, "text": {"field": "st"}}},
    {"data": {"name": "stE"}, "transform": [{"filter": "datum.st === 'adolescence'"}], "mark": {"type": "rule", "color": "#8c8c8c"}, "encoding": {"x": {"field": "a", "type": "quantitative"}, "x2": {"field": "b"}, "y": {"datum": 1.419}}},
    {"data": {"name": "stE"}, "transform": [{"filter": "datum.st === 'adolescence'"}], "mark": {"type": "rule", "color": "#8c8c8c"}, "encoding": {"x": {"field": "a", "type": "quantitative"}, "y": {"datum": 1.419}, "y2": {"datum": 1.379}}},
    {"data": {"name": "stE"}, "transform": [{"filter": "datum.st === 'adolescence'"}], "mark": {"type": "rule", "color": "#8c8c8c"}, "encoding": {"x": {"field": "b", "type": "quantitative"}, "y": {"datum": 1.419}, "y2": {"datum": 1.379}}},
    {"data": {"name": "stE"}, "transform": [{"filter": "datum.st === 'adolescence'"}], "mark": {"type": "text", "fontSize": 10, "baseline": "middle", "color": "#222222"}, "encoding": {"x": {"field": "mid", "type": "quantitative"}, "y": {"datum": 1.495}, "text": {"field": "st"}}},
    {"data": {"name": "evE"}, "mark": {"type": "text", "text": "t", "fontSize": 12, "fontStyle": "italic", "align": "right", "baseline": "middle", "dx": 1}, "encoding": {"x": {"field": "t", "type": "quantitative"}, "y": {"datum": 1.089}, "color": {"condition": [{"test": "datum.ev === 'b0'", "value": "#9b3fc8"}, {"test": "datum.ev === 'b'", "value": "#ee2a2a"}, {"test": "datum.ev === 'm'", "value": "#e83ee8"}], "value": "#3a3ad8"}}},
    {"data": {"name": "evE"}, "mark": {"type": "text", "fontSize": 9, "align": "left", "baseline": "middle", "dx": 1, "dy": 3}, "encoding": {"x": {"field": "t", "type": "quantitative"}, "y": {"datum": 1.089}, "text": {"field": "ev"}, "color": {"condition": [{"test": "datum.ev === 'b0'", "value": "#9b3fc8"}, {"test": "datum.ev === 'b'", "value": "#ee2a2a"}, {"test": "datum.ev === 'm'", "value": "#e83ee8"}], "value": "#3a3ad8"}}},
    {"data": {"name": "uE"}, "mark": {"type": "line", "strokeWidth": 2.5},
     "encoding": {
      "x": {"field": "t", "type": "quantitative", "scale": {"domain": [0, 47.5], "nice": false}, "axis": {"values": [0, 10, 20, 30, 40], "tickCount": 20, "title": null}},
      "y": {"field": "v", "type": "quantitative", "scale": {"domain": [0, 1.03], "nice": false}, "axis": {"values": [0.2, 0.4, 0.6, 0.8, 1.0], "tickCount": 20, "format": ".1f", "title": "[ ]"}},
      "stroke": {"field": "s", "type": "nominal", "scale": {"domain": ["us*", "ub*", "ur*"], "range": ["#1e9e1e", "#ee1c1c", "#ff22ff"]}, "legend": {"orient": "none", "legendX": 177, "legendY": 21, "title": null, "symbolType": "stroke", "symbolSize": 1764, "symbolStrokeWidth": 2.5, "clipHeight": 20, "rowPadding": 6, "labelOffset": 8, "labelFontSize": 16, "labelFontStyle": "italic"}},
      "strokeDash": {"field": "s", "type": "nominal", "scale": {"domain": ["us*", "ub*", "ur*"], "range": [[7, 4], [1, 0], [2, 2]]}, "legend": {"orient": "none", "legendX": 177, "legendY": 21, "title": null, "symbolType": "stroke", "symbolSize": 1764, "symbolStrokeWidth": 2.5, "clipHeight": 20, "rowPadding": 6, "labelOffset": 8, "labelFontSize": 16, "labelFontStyle": "italic"}}
     }}
   ]
  },
  {
   "width": 163, "height": 104,
   "title": {"text": "Mass", "frame": "group", "offset": 15, "dx": 7},
   "layer": [
    {"data": {"values": [{}]}, "mark": {"type": "text", "text": "F", "fontSize": 17, "baseline": "middle", "align": "center"}, "encoding": {"x": {"datum": -10.8}, "y": {"datum": 89.4}}},
    {"data": {"name": "evE"}, "mark": {"type": "rule", "strokeWidth": 1}, "encoding": {"x": {"field": "t", "type": "quantitative"}, "color": {"condition": [{"test": "datum.ev === 'b0'", "value": "#c99be0"}, {"test": "datum.ev === 'b'", "value": "#f4a0a0"}, {"test": "datum.ev === 'm'", "value": "#f2aef0"}], "value": "#a8a8f2"}}},
    {"data": {"name": "evE"}, "mark": {"type": "text", "text": "t", "fontSize": 12, "fontStyle": "italic", "align": "right", "baseline": "middle", "dx": 1}, "encoding": {"x": {"field": "t", "type": "quantitative"}, "y": {"datum": 75.1}, "color": {"condition": [{"test": "datum.ev === 'b0'", "value": "#9b3fc8"}, {"test": "datum.ev === 'b'", "value": "#ee2a2a"}, {"test": "datum.ev === 'm'", "value": "#e83ee8"}], "value": "#3a3ad8"}}},
    {"data": {"name": "evE"}, "mark": {"type": "text", "fontSize": 9, "align": "left", "baseline": "middle", "dx": 1, "dy": 3}, "encoding": {"x": {"field": "t", "type": "quantitative"}, "y": {"datum": 75.1}, "text": {"field": "ev"}, "color": {"condition": [{"test": "datum.ev === 'b0'", "value": "#9b3fc8"}, {"test": "datum.ev === 'b'", "value": "#ee2a2a"}, {"test": "datum.ev === 'm'", "value": "#e83ee8"}], "value": "#3a3ad8"}}},
    {"data": {"name": "mF"}, "mark": {"type": "line", "strokeWidth": 2.5},
     "encoding": {
      "x": {"field": "t", "type": "quantitative", "scale": {"domain": [0, 47.5], "nice": false}, "axis": {"values": [0, 10, 20, 30, 40], "tickCount": 20, "title": null}},
      "y": {"field": "v", "type": "quantitative", "scale": {"domain": [0, 71], "nice": false}, "axis": {"values": [10, 20, 30, 40, 50, 60], "tickCount": 20, "title": "[kg]"}},
      "stroke": {"field": "s", "type": "nominal", "scale": {"domain": ["xB*", "xs*", "xb*", "xr*"], "range": ["#0c0cc0", "#22a022", "#ee1c1c", "#ff22ff"]}, "legend": {"orient": "none", "legendX": 176, "legendY": 8, "title": null, "symbolType": "stroke", "symbolSize": 1764, "symbolStrokeWidth": 2.5, "clipHeight": 20, "rowPadding": 5.6, "labelOffset": 6, "labelFontSize": 15, "labelFontStyle": "italic"}},
      "strokeDash": {"field": "s", "type": "nominal", "scale": {"domain": ["xB*", "xs*", "xb*", "xr*"], "range": [[1, 0], [7, 4], [1, 0], [2, 2]]}, "legend": {"orient": "none", "legendX": 176, "legendY": 8, "title": null, "symbolType": "stroke", "symbolSize": 1764, "symbolStrokeWidth": 2.5, "clipHeight": 20, "rowPadding": 5.6, "labelOffset": 6, "labelFontSize": 15, "labelFontStyle": "italic"}}
     }},
    {"data": {"name": "ptF"}, "transform": [{"filter": "datum.g === 'H. sapiens'"}], "mark": {"type": "point", "filled": true, "size": 60, "opacity": 1},
     "encoding": {
      "x": {"field": "t", "type": "quantitative"},
      "y": {"field": "v", "type": "quantitative"},
      "fill": {"field": "g", "type": "nominal", "scale": {"domain": ["H. sapiens"], "range": ["#8080f2"]}, "legend": {"orient": "none", "legendX": 169, "legendY": -35.7, "title": null, "symbolType": "circle", "symbolSize": 70, "clipHeight": 14, "labelOffset": 4, "labelFontSize": 12, "labelFontStyle": "italic"}}
     }},
    {"data": {"name": "ptF"}, "transform": [{"filter": "datum.g === 'Neanderthal'"}], "mark": {"type": "point", "filled": true, "size": 60, "opacity": 1},
     "encoding": {
      "x": {"field": "t", "type": "quantitative"},
      "y": {"field": "v", "type": "quantitative"},
      "color": {"field": "g", "type": "nominal", "scale": {"domain": ["Neanderthal"], "range": ["#000000"]}, "legend": {"orient": "none", "legendX": 169, "legendY": -11.7, "title": null, "symbolType": "circle", "symbolSize": 70, "clipHeight": 14, "labelOffset": 1, "labelFontSize": 12, "labelFontStyle": "normal"}}
     }}
   ]
  },
  {"data": {"values": [{}]}, "mark": {"type": "text", "text": ""}, "encoding": {}, "width": 163, "height": 38},
  {"data": {"values": [{}]}, "mark": {"type": "text", "text": ""}, "encoding": {}, "width": 163, "height": 38},
  {
   "width": 163, "height": 104,
   "title": {"text": "Growth metabolic rate", "frame": "group", "offset": -8.5},
   "layer": [
    {"data": {"values": [{}]}, "mark": {"type": "text", "text": "G", "fontSize": 17, "baseline": "middle", "align": "center"}, "encoding": {"x": {"datum": -10.5}, "y": {"datum": 2.117}}},
    {"data": {"values": [{}]}, "mark": {"type": "text", "text": "x 10²", "fontSize": 11, "baseline": "middle", "align": "center"}, "encoding": {"x": {"datum": -1.6}, "y": {"datum": 2.01}}},
    {"data": {"name": "evE"}, "mark": {"type": "rule", "strokeWidth": 1}, "encoding": {"x": {"field": "t", "type": "quantitative"}, "color": {"condition": [{"test": "datum.ev === 'b0'", "value": "#c99be0"}, {"test": "datum.ev === 'b'", "value": "#f4a0a0"}, {"test": "datum.ev === 'm'", "value": "#f2aef0"}], "value": "#a8a8f2"}}},
    {"data": {"name": "bG"}, "mark": {"type": "line", "strokeWidth": 3},
     "encoding": {
      "x": {"field": "t", "type": "quantitative", "scale": {"domain": [0, 47.5], "nice": false}, "axis": {"values": [0, 10, 20, 30, 40], "tickCount": 20, "title": "Age [years]", "titleFontSize": 14.5, "titlePadding": 2}},
      "y": {"field": "v", "type": "quantitative", "scale": {"domain": [0, 1.85], "nice": false}, "axis": {"values": [0.5, 1.0, 1.5], "tickCount": 20, "format": ".1f", "title": "[MJ/year]"}},
      "stroke": {"field": "s", "type": "nominal", "scale": {"domain": ["Bsyn"], "range": ["#000000"]}, "legend": {"orient": "none", "legendX": 173, "legendY": 49, "title": null, "symbolType": "stroke", "symbolSize": 1764, "symbolStrokeWidth": 2.5, "clipHeight": 20, "labelOffset": 9, "labelFontSize": 16, "labelFontStyle": "italic"}}
     }}
   ]
  },
  {
   "width": 163, "height": 104,
   "title": {"text": "Mass (zoom)", "frame": "group", "offset": -8.5, "dx": 7},
   "layer": [
    {"data": {"values": [{}]}, "mark": {"type": "text", "text": "H", "fontSize": 17, "baseline": "middle", "align": "center"}, "encoding": {"x": {"datum": -10.8}, "y": {"datum": 1.785}}},
    {"data": {"name": "evE"}, "mark": {"type": "rule", "strokeWidth": 1}, "encoding": {"x": {"field": "t", "type": "quantitative"}, "color": {"condition": [{"test": "datum.ev === 'b0'", "value": "#c99be0"}, {"test": "datum.ev === 'b'", "value": "#f4a0a0"}, {"test": "datum.ev === 'm'", "value": "#f2aef0"}], "value": "#a8a8f2"}}},
    {"data": {"name": "mF"}, "transform": [{"filter": "datum.s === 'xb*' || datum.s === 'xr*'"}], "mark": {"type": "line", "strokeWidth": 2.5},
     "encoding": {
      "x": {"field": "t", "type": "quantitative", "scale": {"domain": [0, 47.5], "nice": false}, "axis": {"values": [0, 10, 20, 30, 40], "tickCount": 20, "title": "Age [years]", "titleFontSize": 14.5, "titlePadding": 2}},
      "y": {"field": "v", "type": "quantitative", "scale": {"domain": [0, 1.56], "nice": false}, "axis": {"values": [0.2, 0.4, 0.6, 0.8, 1.0, 1.2, 1.4], "tickCount": 20, "format": ".1f", "title": "[kg]"}},
      "stroke": {"field": "s", "type": "nominal", "scale": {"domain": ["xb*", "xr*"], "range": ["#ee1c1c", "#ff22ff"]}, "legend": {"orient": "none", "legendX": 176, "legendY": 32.3, "title": null, "symbolType": "stroke", "symbolSize": 1764, "symbolStrokeWidth": 2.5, "clipHeight": 20, "rowPadding": 5.7, "labelOffset": 6, "labelFontSize": 15, "labelFontStyle": "italic"}},
      "strokeDash": {"field": "s", "type": "nominal", "scale": {"domain": ["xb*", "xr*"], "range": [[1, 0], [2, 2]]}, "legend": {"orient": "none", "legendX": 176, "legendY": 32.3, "title": null, "symbolType": "stroke", "symbolSize": 1764, "symbolStrokeWidth": 2.5, "clipHeight": 20, "rowPadding": 5.7, "labelOffset": 6, "labelFontSize": 15, "labelFontStyle": "italic"}}
     }},
    {"data": {"name": "ptH"}, "transform": [{"filter": "datum.g === 'H. sapiens'"}], "mark": {"type": "point", "filled": true, "size": 60, "opacity": 1},
     "encoding": {
      "x": {"field": "t", "type": "quantitative"},
      "y": {"field": "v", "type": "quantitative"},
      "fill": {"field": "g", "type": "nominal", "scale": {"domain": ["H. sapiens"], "range": ["#f28080"]}, "legend": {"orient": "none", "legendX": 169, "legendY": -11.3, "title": null, "symbolType": "circle", "symbolSize": 70, "clipHeight": 14, "labelOffset": 4, "labelFontSize": 12, "labelFontStyle": "italic"}}
     }},
    {"data": {"name": "ptH"}, "transform": [{"filter": "datum.g === 'Neanderthal'"}], "mark": {"type": "point", "filled": true, "size": 60, "opacity": 1},
     "encoding": {
      "x": {"field": "t", "type": "quantitative"},
      "y": {"field": "v", "type": "quantitative"},
      "color": {"field": "g", "type": "nominal", "scale": {"domain": ["Neanderthal"], "range": ["#000000"]}, "legend": {"orient": "none", "legendX": 169, "legendY": 11, "title": null, "symbolType": "circle", "symbolSize": 70, "clipHeight": 14, "labelOffset": 1, "labelFontSize": 12, "labelFontStyle": "normal"}}
     }}
   ]
  }
 ]
}
